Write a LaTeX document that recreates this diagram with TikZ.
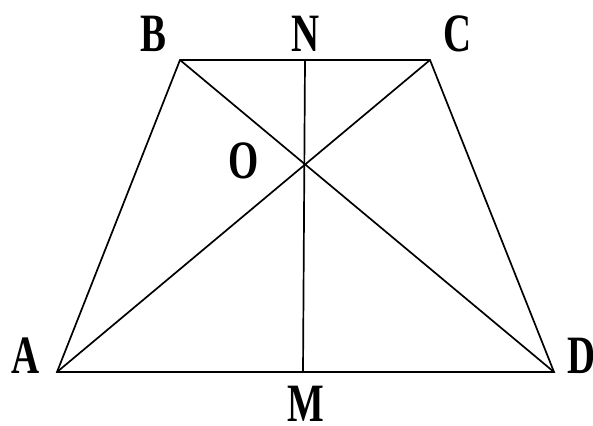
\documentclass[tikz,border=0pt]{standalone}
\usepackage{fontspec}
\setmainfont{Liberation Serif}[FakeStretch=0.72]
\usetikzlibrary{intersections}
\begin{document}
\begin{tikzpicture}[x=1pt, y=-1pt]
  \tikzstyle{edge}=[line width=1.7pt, line join=miter]
  \tikzstyle{lbl}=[font=\fontsize{54}{54}\bfseries\selectfont, inner sep=0pt]
  \useasboundingbox (0,0) rectangle (593,425);

  % vertices of the trapezoid
  \coordinate (A) at (57,372);
  \coordinate (B) at (180,60);
  \coordinate (C) at (430,60);
  \coordinate (D) at (554,372);
  \coordinate (N) at (305,60);
  \coordinate (M) at (303,372);

  % sides and diagonals
  \draw[edge] (A) -- (B) -- (C) -- (D) -- cycle;
  \draw[edge, name path=ac] (A) -- (C);
  \draw[edge, name path=bd] (B) -- (D);
  \draw[edge] (N) -- (M);
  \path[name intersections={of=ac and bd, by=O}];

  % labels
  \node[lbl] (lA) at (26,356) {A};
  \node[lbl] (lB) at (153,34) {B};
  \node[lbl] (lC) at (458,34) {C};
  \node[lbl] (lD) at (582,356) {D};
  \node[lbl] (lN) at (306,34) {N};
  \node[lbl] (lM) at (306,404) {M};
  \node[lbl] (lO) at (244,161) {O};
\end{tikzpicture}
\end{document}
